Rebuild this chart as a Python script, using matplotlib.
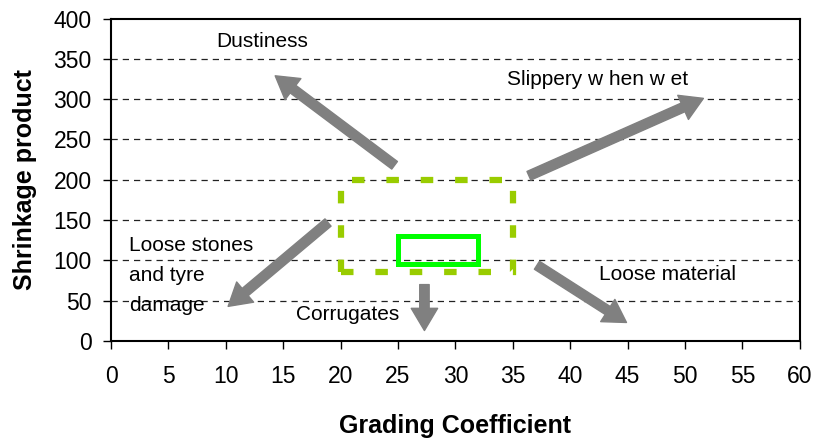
import numpy as np
import matplotlib.pyplot as plt
from matplotlib.patches import Rectangle

plt.rcParams['font.family'] = ['Liberation Sans', 'DejaVu Sans']

# target zones (x0, y0, x1, y1)
outer_zone = [20, 85, 35, 200]
inner_zone = [25, 95, 32, 130]

# arrows: tail (x, y) -> tip (x, y)
arrow_tail = np.array([[24.7, 218], [36.4, 205], [18.9, 147], [27.3, 70], [37.1, 94]])
arrow_tip = np.array([[14.3, 329], [51.6, 301], [10.2, 43], [27.3, 13], [44.9, 23]])

# labels
label_text = ['Dustiness', 'Slippery w hen w et', 'Loose stones', 'and tyre', 'damage',
              'Corrugates', 'Loose material']
label_x = [13.2, 34.5, 1.6, 1.6, 1.6, 16.1, 42.5]
label_y = [371, 325, 118, 81, 43.5, 33.5, 82]
label_ha = ['center', 'left', 'left', 'left', 'left', 'left', 'left']

fig = plt.figure(figsize=(8.17, 4.43), dpi=100)
ax = fig.add_axes([0.1359, 0.2302, 0.8431, 0.7279])

ax.set_xlim(0, 60)
ax.set_ylim(0, 400)
ax.set_xticks(np.arange(0, 61, 5))
ax.set_yticks(np.arange(0, 401, 50))
ax.tick_params(direction='out', length=6, width=1, labelsize=16.5, pad=8)
ax.tick_params(axis='x', pad=11)
for s in ax.spines.values():
    s.set_linewidth(1.5)

for yv in np.arange(50, 400, 50):
    ax.axhline(yv, color='#222222', lw=0.9, ls=(0, (5, 4)), zorder=1)

ax.add_patch(Rectangle((outer_zone[0], outer_zone[1]), outer_zone[2] - outer_zone[0],
                       outer_zone[3] - outer_zone[1], fill=False, ec='#99CC00', lw=4.5,
                       ls=(0, (2, 3.5)), capstyle='butt', zorder=3))
ax.add_patch(Rectangle((inner_zone[0], inner_zone[1]), inner_zone[2] - inner_zone[0],
                       inner_zone[3] - inner_zone[1], fill=False, ec='#00FF00', lw=3.6,
                       zorder=3))

for (tx, ty), (hx, hy) in zip(arrow_tail, arrow_tip):
    ax.annotate('', xy=(hx, hy), xytext=(tx, ty),
                arrowprops=dict(arrowstyle='simple,head_length=0.8,head_width=0.95,tail_width=0.34',
                                mutation_scale=20, fc='#808080', ec='#808080',
                                shrinkA=0, shrinkB=0), zorder=4)

for t, x, y, ha in zip(label_text, label_x, label_y, label_ha):
    ax.text(x, y, t, ha=ha, va='center', fontsize=15, zorder=5)

ax.set_xlabel('Grading Coefficient', fontsize=18, fontweight='bold', labelpad=19)
ax.set_ylabel('Shrinkage product', fontsize=18, fontweight='bold', labelpad=12)

fig.savefig('out.png', dpi=100)
